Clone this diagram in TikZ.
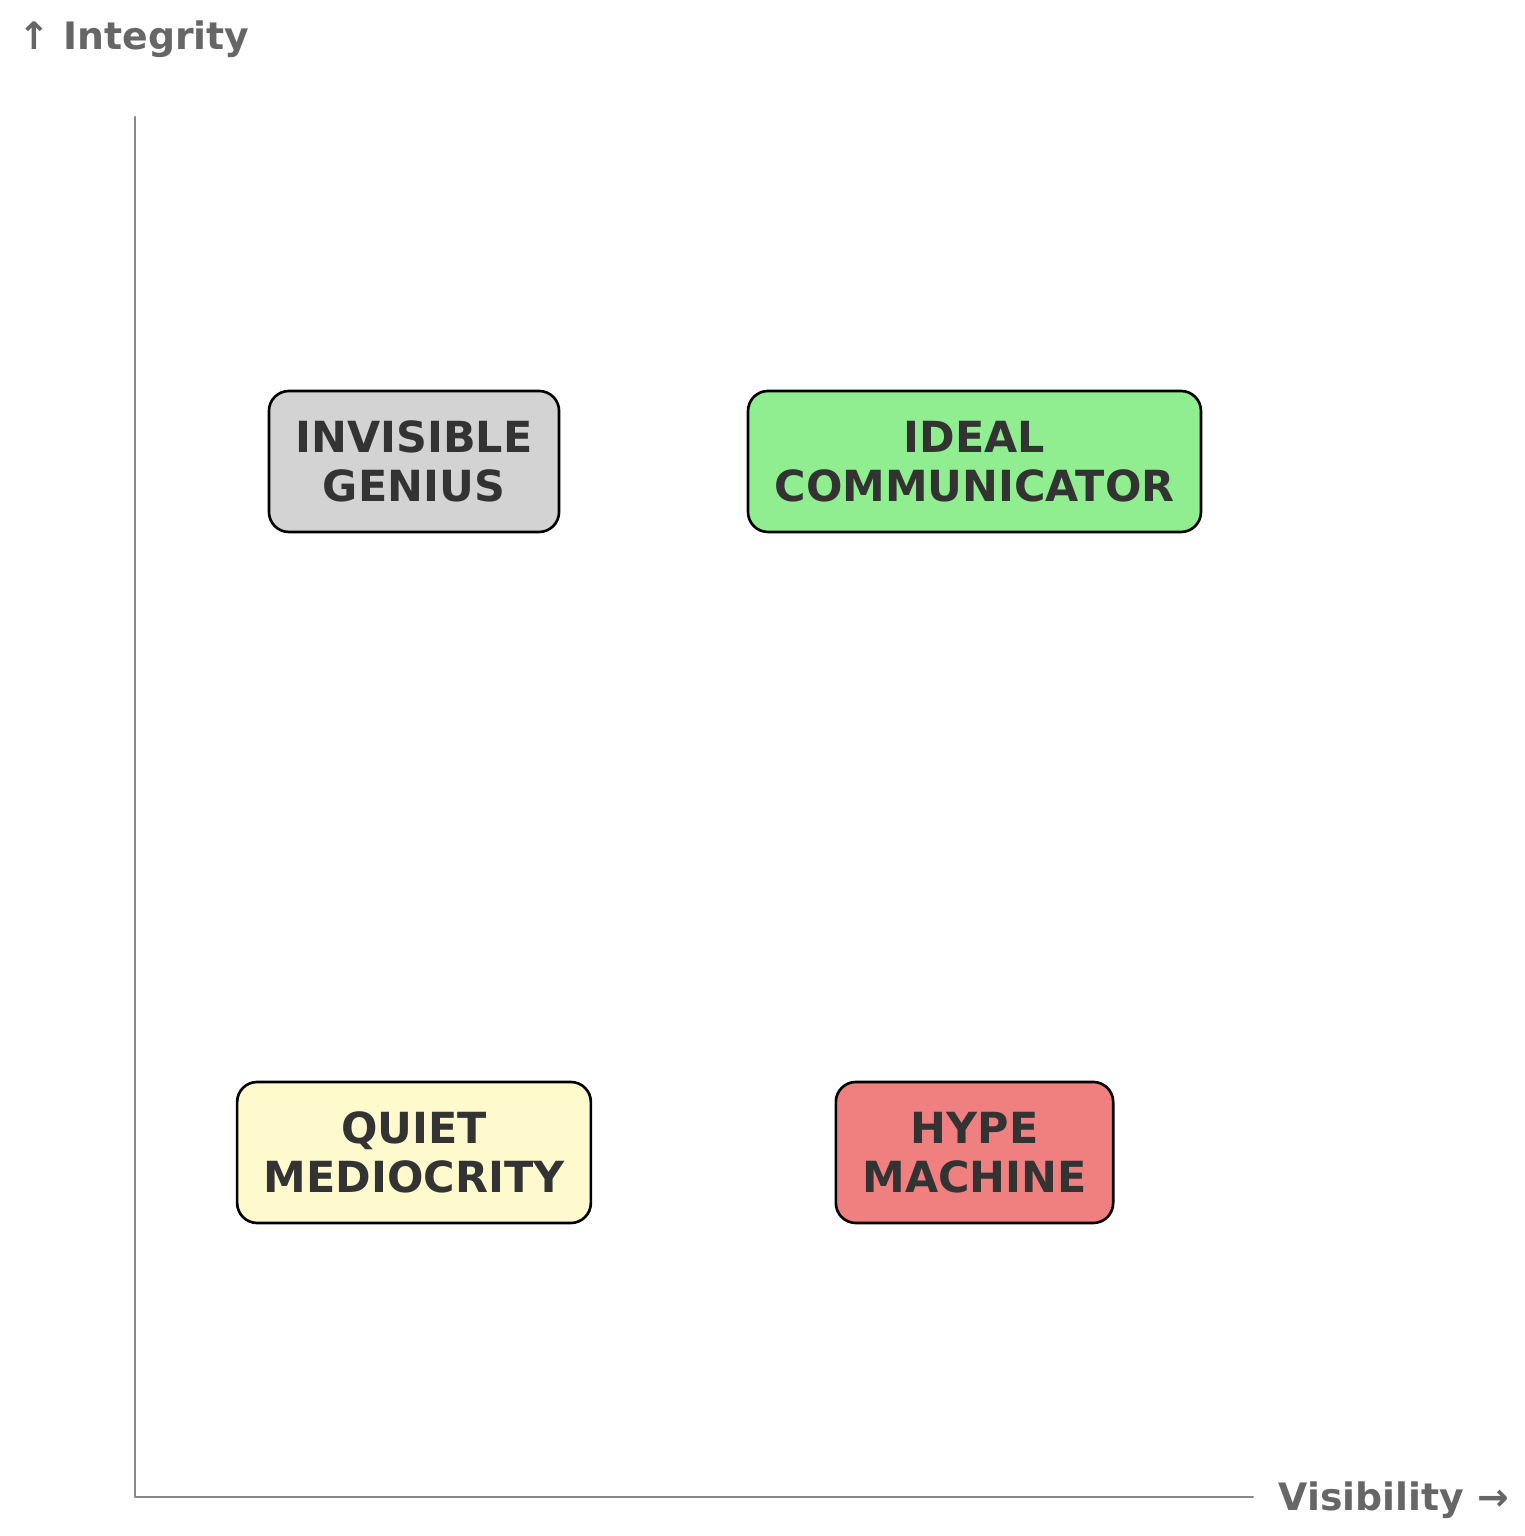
\documentclass[tikz,border=0pt]{standalone}
\usepackage{fontspec}
\setmainfont{DejaVu Sans}
\definecolor{axisgray}{HTML}{888888}
\definecolor{labelgray}{HTML}{666666}
\definecolor{textdark}{HTML}{333333}
\definecolor{genius}{HTML}{D3D3D3}
\definecolor{ideal}{HTML}{90EE90}
\definecolor{quiet}{HTML}{FFFACD}
\definecolor{hype}{HTML}{F08080}
\tikzset{
  quadbox/.style={draw=black,line width=0.75pt,rounded corners=0.2cm,align=center,
    inner xsep=0.265cm,minimum height=1.41cm,text=textdark,
    font=\fontsize{12.2}{14}\selectfont\bfseries},
  axislabel/.style={text=labelgray,inner sep=0pt,anchor=base west,
    font=\fontsize{10.75}{13}\selectfont\bfseries}
}

\begin{document}
\begin{tikzpicture}[line cap=round,line join=round,x=1.0cm,y=1.0cm]
		\useasboundingbox (0,0) rectangle (15.25,15.36);
		\coordinate (O) at (1.35,0.39);
		\coordinate (ytop) at (1.35,14.19);
		\coordinate (xend) at (12.53,0.39);
		\draw [line width=0.6pt,color=axisgray] (ytop)-- (O)-- (xend);
		\node[axislabel] (ylab) at (0.18,14.86) {↑ Integrity};
		\node[axislabel] (xlab) at (12.78,0.25) {Visibility →};
		\node[quadbox,fill=genius] (genius) at (4.14,10.745) {INVISIBLE\\GENIUS};
		\node[quadbox,fill=ideal] (ideal) at (9.745,10.745) {IDEAL\\COMMUNICATOR};
		\node[quadbox,fill=quiet] (quiet) at (4.14,3.835) {QUIET\\MEDIOCRITY};
		\node[quadbox,fill=hype] (hype) at (9.745,3.835) {HYPE\\MACHINE};
	\end{tikzpicture}
\end{document}
